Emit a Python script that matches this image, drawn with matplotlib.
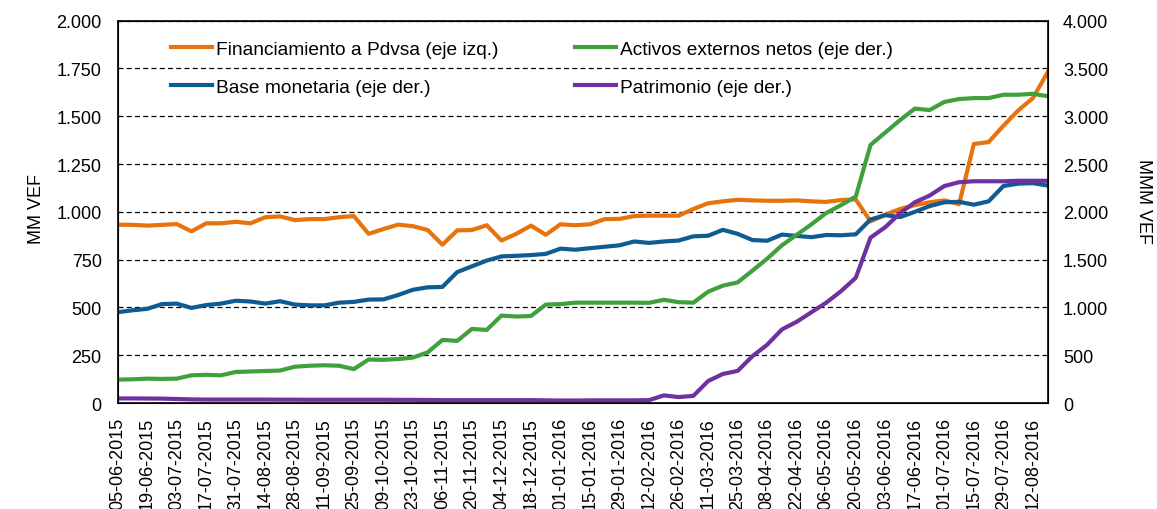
import matplotlib
matplotlib.use('Agg')
import matplotlib.pyplot as plt
import matplotlib.dates as mdates
from matplotlib.ticker import FuncFormatter, MultipleLocator
import pandas as pd

# fechas semanales (viernes)
dates = pd.date_range('2015-06-05', periods=64, freq='7D')

# Financiamiento a Pdvsa (eje izq., MM VEF)
pdvsa = [933, 932, 928, 932, 936, 898, 940, 940, 948, 940,
         972, 976, 957, 962, 962, 972, 978, 885, 910, 933,
         925, 905, 828, 903, 905, 930, 850, 885, 928, 880,
         935, 930, 935, 962, 963, 978, 980, 980, 980, 1015,
         1045, 1055, 1063, 1060, 1058, 1058, 1060, 1055, 1052, 1062,
         1065, 950, 985, 1015, 1035, 1050, 1060, 1040, 1355, 1365,
         1450, 1530, 1595, 1730]

# Base monetaria (eje der., MMM VEF)
base = [950, 970, 985, 1035, 1040, 995, 1025, 1040, 1070, 1062,
        1040, 1065, 1030, 1022, 1022, 1050, 1058, 1082, 1084, 1130,
        1185, 1210, 1215, 1370, 1430, 1490, 1534, 1540, 1548, 1560,
        1615, 1604, 1620, 1635, 1650, 1690, 1675, 1690, 1700, 1744,
        1750, 1812, 1770, 1705, 1698, 1762, 1748, 1735, 1758, 1755,
        1765, 1920, 1965, 1945, 2000, 2060, 2100, 2105, 2075, 2110,
        2270, 2295, 2300, 2275]

# Activos externos netos (eje der.)
activos = [245, 248, 255, 252, 255, 290, 295, 290, 325, 330,
           335, 340, 380, 390, 395, 390, 355, 455, 452, 460,
           475, 530, 660, 650, 775, 765, 915, 905, 910, 1030,
           1035, 1050, 1050, 1050, 1050, 1050, 1048, 1080, 1055, 1050,
           1165, 1228, 1262, 1385, 1510, 1650, 1760, 1870, 1988, 2070,
           2160, 2700, 2830, 2960, 3080, 3065, 3150, 3180, 3190, 3190,
           3225, 3225, 3235, 3210]

# Patrimonio (eje der.)
patrimonio = [48, 48, 47, 46, 42, 38, 36, 36, 36, 36,
              36, 35, 35, 34, 34, 34, 34, 34, 34, 33,
              33, 32, 30, 30, 30, 30, 30, 30, 30, 28,
              26, 26, 28, 28, 28, 28, 30, 80, 62, 75,
              230, 304, 336, 490, 610, 770, 850, 950, 1050, 1170,
              1310, 1730, 1840, 1985, 2100, 2170, 2270, 2310, 2320, 2320,
              2320, 2325, 2325, 2325]

c_orange = '#E8720C'
c_blue = '#0E5C91'
c_green = '#40A03C'
c_purple = '#7030A0'

plt.rcParams['font.family'] = ['Liberation Sans', 'DejaVu Sans']
plt.rcParams['font.size'] = 13

fig = plt.figure(figsize=(11.57, 5.10), dpi=100)
ax = fig.add_axes([0.1017, 0.2078, 0.8038, 0.7497])
ax2 = ax.twinx()

lw = 3.0
l1, = ax.plot(dates, pdvsa, color=c_orange, lw=lw, solid_joinstyle='round',
              label='Financiamiento a Pdvsa (eje izq.)')
l2, = ax2.plot(dates, base, color=c_blue, lw=lw, solid_joinstyle='round',
               label='Base monetaria (eje der.)')
l3, = ax2.plot(dates, activos, color=c_green, lw=lw, solid_joinstyle='round',
               label='Activos externos netos (eje der.)')
l4, = ax2.plot(dates, patrimonio, color=c_purple, lw=lw, solid_joinstyle='round',
               label='Patrimonio (eje der.)')

ax.set_xlim(dates[0], dates[-1])
ax.set_ylim(0, 2000)
ax2.set_ylim(0, 4000)
ax.yaxis.set_major_locator(MultipleLocator(250))
ax2.yaxis.set_major_locator(MultipleLocator(500))

fmt = FuncFormatter(lambda v, p: f'{int(round(v)):,}'.replace(',', '.'))
ax.yaxis.set_major_formatter(fmt)
ax2.yaxis.set_major_formatter(fmt)

ax.set_xticks(dates[::2])
ax.xaxis.set_major_formatter(mdates.DateFormatter('%d-%m-%Y'))
for t in ax.get_xticklabels():
    t.set_rotation(90)

ax.tick_params(axis='x', length=0, pad=10)
ax.tick_params(axis='y', length=0, pad=11.5)
ax2.tick_params(axis='y', length=0, pad=11)

ax.grid(axis='y', color='black', linestyle=(0, (4, 2.6)), lw=0.9)
ax.set_axisbelow(True)
for s in ax2.spines.values():
    s.set_color('black')
    s.set_linewidth(1.2)

ax.set_ylabel('MM VEF')
ax.yaxis.set_label_coords(-0.078, 0.51)
ax2.set_ylabel('MMM VEF', rotation=270, va='center')
ax2.yaxis.set_label_coords(1.103, 0.53)

ax2.legend(handles=[l1, l2, l3, l4], ncol=2, loc='upper left',
           bbox_to_anchor=(0.057, 0.949), frameon=False, fontsize=13.8,
           handlelength=2.15, handletextpad=0.2, columnspacing=4.0,
           labelspacing=1.1, borderpad=0, borderaxespad=0)

fig.savefig('out.png', dpi=100)
